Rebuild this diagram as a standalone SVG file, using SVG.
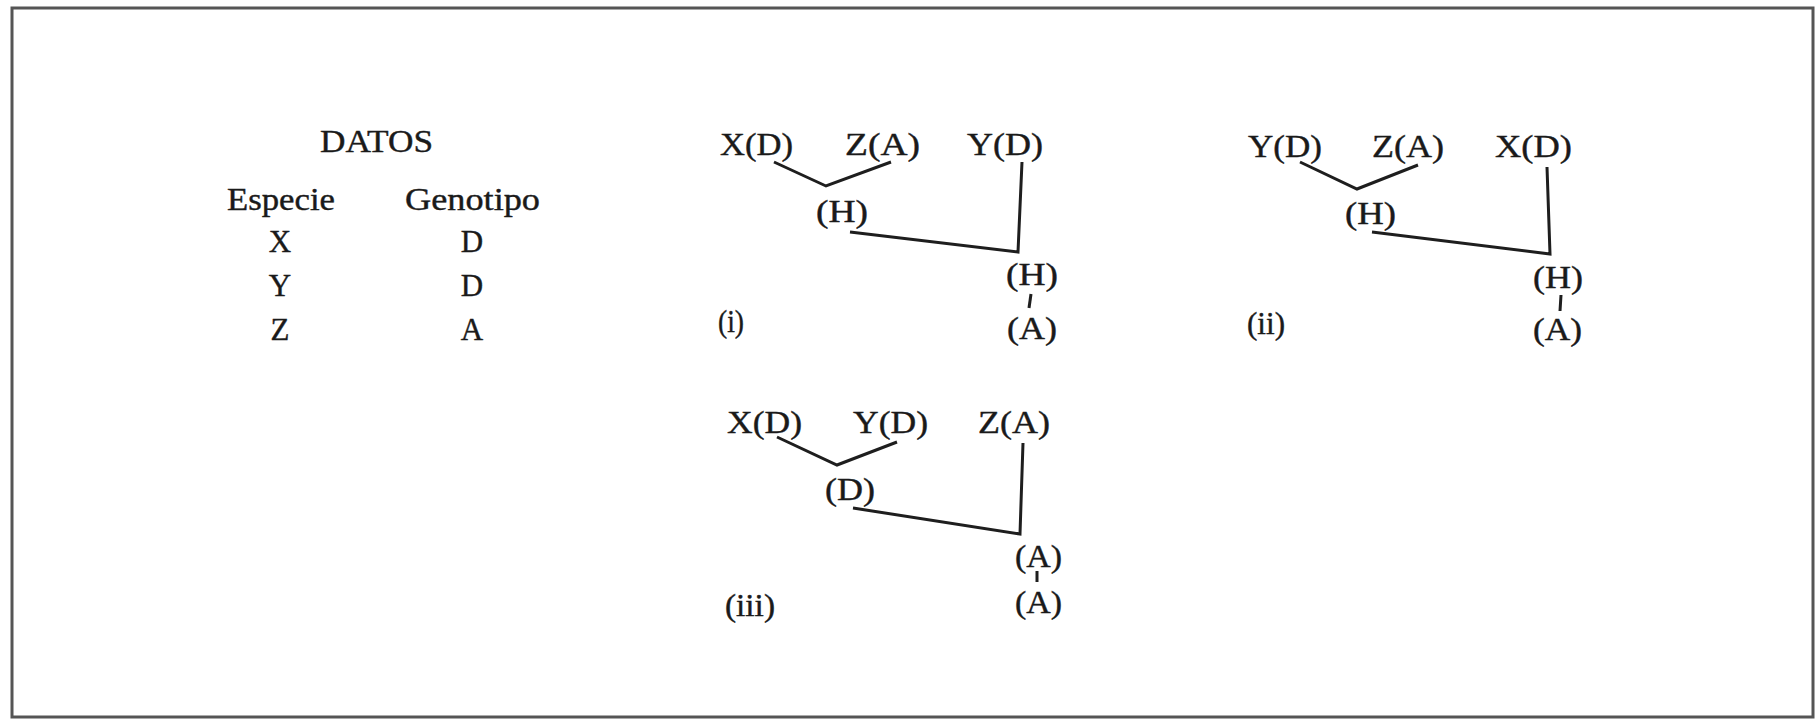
<svg xmlns="http://www.w3.org/2000/svg" width="1817" height="719" viewBox="0 0 1817 719">
<style>
text{font-family:"Liberation Serif","Times New Roman",serif;font-size:31px;fill:#1a1a1a;stroke:#1a1a1a;stroke-width:0.4}
.l{stroke:#1e1e1e;stroke-width:3;fill:none;stroke-linejoin:miter}
</style>
<rect x="0" y="0" width="1817" height="719" fill="#fff"/>
<rect x="12" y="8" width="1801" height="709" fill="none" stroke="#555" stroke-width="3"/>
<g id="datos">
<text x="320" y="152" textLength="113" lengthAdjust="spacingAndGlyphs">DATOS</text>
<text x="227" y="210" textLength="108" lengthAdjust="spacingAndGlyphs">Especie</text>
<text x="405" y="210" textLength="135" lengthAdjust="spacingAndGlyphs">Genotipo</text>
<text x="280" y="252" text-anchor="middle">X</text>
<text x="472" y="252" text-anchor="middle">D</text>
<text x="280" y="296" text-anchor="middle">Y</text>
<text x="472" y="296" text-anchor="middle">D</text>
<text x="280" y="340" text-anchor="middle">Z</text>
<text x="472" y="340" text-anchor="middle">A</text>
</g>
<g id="tree-i">
<text x="720" y="155" textLength="73" lengthAdjust="spacingAndGlyphs">X(D)</text>
<text x="845" y="155" textLength="75" lengthAdjust="spacingAndGlyphs">Z(A)</text>
<text x="967" y="155" textLength="76" lengthAdjust="spacingAndGlyphs">Y(D)</text>
<text x="816" y="222" textLength="52" lengthAdjust="spacingAndGlyphs">(H)</text>
<text x="1006" y="285" textLength="52" lengthAdjust="spacingAndGlyphs">(H)</text>
<text x="1007" y="339" textLength="50" lengthAdjust="spacingAndGlyphs">(A)</text>
<text x="718" y="332" textLength="26" lengthAdjust="spacingAndGlyphs">(i)</text>
</g>
<g id="tree-ii">
<text x="1248" y="157" textLength="74" lengthAdjust="spacingAndGlyphs">Y(D)</text>
<text x="1372" y="157" textLength="72" lengthAdjust="spacingAndGlyphs">Z(A)</text>
<text x="1495" y="157" textLength="77" lengthAdjust="spacingAndGlyphs">X(D)</text>
<text x="1345" y="224" textLength="51" lengthAdjust="spacingAndGlyphs">(H)</text>
<text x="1533" y="288" textLength="50" lengthAdjust="spacingAndGlyphs">(H)</text>
<text x="1533" y="340" textLength="49" lengthAdjust="spacingAndGlyphs">(A)</text>
<text x="1247" y="334" textLength="38" lengthAdjust="spacingAndGlyphs">(ii)</text>
</g>
<g id="tree-iii">
<text x="727" y="433" textLength="75" lengthAdjust="spacingAndGlyphs">X(D)</text>
<text x="853" y="433" textLength="75" lengthAdjust="spacingAndGlyphs">Y(D)</text>
<text x="978" y="433" textLength="72" lengthAdjust="spacingAndGlyphs">Z(A)</text>
<text x="825" y="500" textLength="50" lengthAdjust="spacingAndGlyphs">(D)</text>
<text x="1015" y="567" textLength="47" lengthAdjust="spacingAndGlyphs">(A)</text>
<text x="1015" y="613" textLength="47" lengthAdjust="spacingAndGlyphs">(A)</text>
<text x="725" y="616" textLength="50" lengthAdjust="spacingAndGlyphs">(iii)</text>
</g>
<g id="connectors">
<polyline class="l" points="774,162 826,186 891,162"/>
<polyline class="l" points="850,232 1018,252 1022,162"/>
<line class="l" x1="1031" y1="294" x2="1029" y2="308"/>
<polyline class="l" points="1300,162 1357,189 1418,165"/>
<polyline class="l" points="1372,232 1550,254 1547,167"/>
<line class="l" x1="1561" y1="295" x2="1560" y2="311"/>
<polyline class="l" points="777,437 837,465 897,442"/>
<polyline class="l" points="853,508 1020,534 1023,443"/>
<line class="l" x1="1037" y1="571" x2="1037" y2="582"/>
</g>
</svg>
